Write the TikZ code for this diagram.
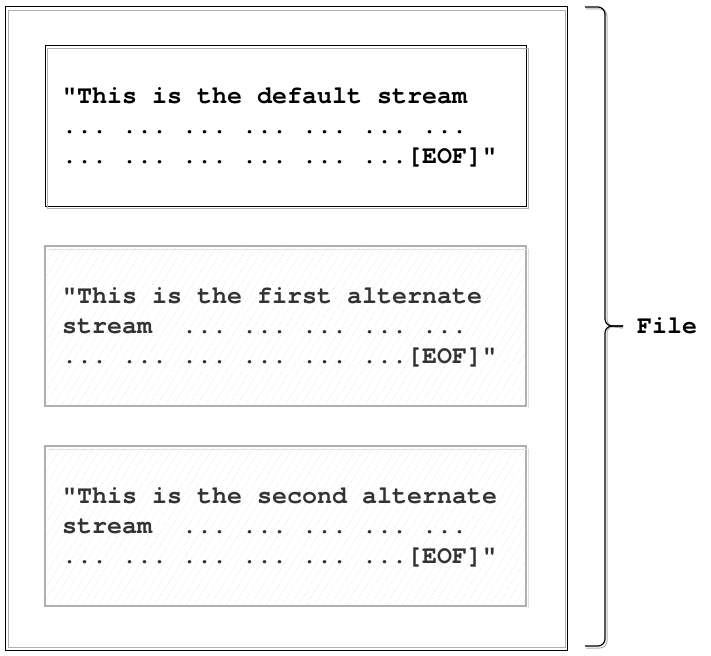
\documentclass[tikz,border=0pt]{standalone}
\usepackage{fontspec}
\newfontfamily\cursorfont[Extension=.otf, BoldFont=texgyrecursor-bold, Ligatures=NoCommon]{texgyrecursor-regular}
\usetikzlibrary{positioning, calc, patterns.meta}
\definecolor{sgray}{RGB}{175,175,175}
\definecolor{tgray}{RGB}{51,51,51}
\newcommand{\codefont}{\cursorfont\bfseries\fontsize{25}{30}\selectfont\frenchspacing}

\tikzset{
  codetext/.style={anchor=west, align=left, inner sep=0pt, font=\codefont},
  hatched/.style={pattern={Lines[angle=58,distance=6.5pt,line width=0.5pt]}, pattern color=black!10}
}

\begin{document}
\begin{tikzpicture}[x=1pt,y=-1pt]
\def\xl{45}
\def\xr{526}

\useasboundingbox (0,0) rectangle (711,655);

%File box:
\draw[line width=1pt] (5,7) rectangle (567,650);
\draw[sgray, line width=0.6pt] (8,10) rectangle (565,647);

%Default stream
\draw[line width=1pt] (\xl,46) rectangle (\xr,206);
\draw[sgray, line width=0.8pt] (\xl+2,48) rectangle (\xr+2,208);
\node[codetext] (default) at (62,127) {"This is the default stream\\... ... ... ... ... ... ...\\... ... ... ... ... ...[EOF]"};

%Alternate streams
\fill[hatched] (\xl,246) rectangle (\xr,406);
\draw[sgray, line width=1.2pt] (\xl,246) rectangle (\xr,406);
\draw[black!12, line width=0.6pt] (\xl+3,249) -- (\xr+2,249) -- (\xr+2,408);
\node[codetext, tgray] (first) at (62,327) {"This is the first alternate\\stream\ \ ... ... ... ... ...\\... ... ... ... ... ...[EOF]"};

\fill[hatched] (\xl,446) rectangle (\xr,606);
\draw[sgray, line width=1.2pt] (\xl,446) rectangle (\xr,606);
\draw[black!12, line width=0.6pt] (\xl+3,449) -- (\xr+2,449) -- (\xr+2,608);
\node[codetext, tgray] (second) at (62,527) {"This is the second alternate\\stream\ \ ... ... ... ... ...\\... ... ... ... ... ...[EOF]"};

%Brace
\coordinate (btop) at (585,7);
\coordinate (bbot) at (585,646);
\coordinate (bmid) at (605,326);
\coordinate (btip) at (623,326);
\draw[sgray, line width=1pt, rounded corners=7pt] ($(btop)+(1,2)$) -| ($(bmid)+(2,0)$) -- ($(btip)+(0,2)$);
\draw[sgray, line width=1pt, rounded corners=7pt] ($(bbot)+(1,2)$) -| ($(bmid)+(2,0)$) -- ($(btip)+(0,2)$);
\draw[line width=1.2pt, rounded corners=7pt] (btop) -| (bmid) -- (btip);
\draw[line width=1.2pt, rounded corners=7pt] (bbot) -| (bmid) -- (btip);
\node[codetext] (file) at (637,326) {File};

\end{tikzpicture}
\end{document}
